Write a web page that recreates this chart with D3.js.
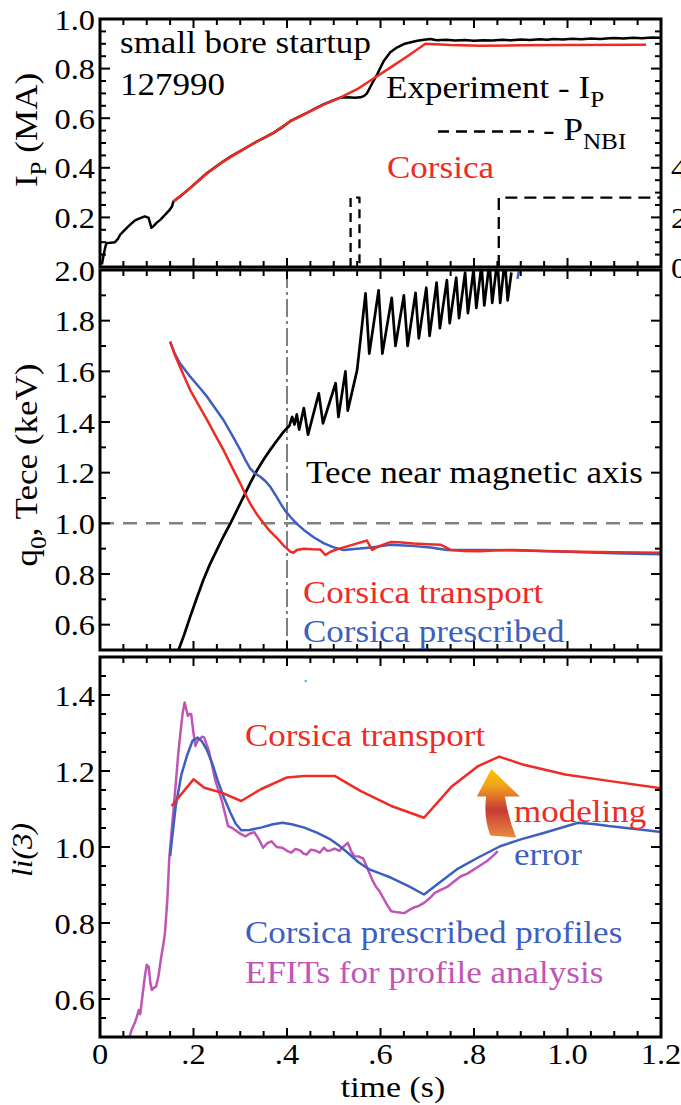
<!DOCTYPE html>
<html>
<head>
<meta charset="utf-8">
<script src="https://d3js.org/d3.v7.min.js"></script>
<style>
  body { margin: 0; background: #fff; }
</style>
</head>
<body>
<div id="chart"></div>
<script>
// ---------- data (time in s) ----------
const ipExperiment = [[0.004,0.01],[0.008,0.05],[0.011,0.078],[0.014,0.097],[0.022,0.098],[0.032,0.10],[0.038,0.112],[0.043,0.13],[0.052,0.148],[0.064,0.17],[0.075,0.188],[0.086,0.197],[0.096,0.204],[0.104,0.198],[0.11,0.158],[0.115,0.166],[0.121,0.178],[0.13,0.192],[0.139,0.21],[0.148,0.228],[0.154,0.244],[0.157,0.264],[0.175,0.29],[0.193,0.319],[0.211,0.349],[0.229,0.379],[0.246,0.402],[0.264,0.426],[0.282,0.448],[0.30,0.467],[0.318,0.487],[0.336,0.507],[0.354,0.524],[0.371,0.541],[0.389,0.563],[0.407,0.588],[0.425,0.605],[0.443,0.622],[0.46,0.639],[0.478,0.656],[0.496,0.670],[0.514,0.683],[0.53,0.684],[0.545,0.682],[0.557,0.684],[0.565,0.69],[0.571,0.70],[0.582,0.74],[0.593,0.777],[0.607,0.831],[0.621,0.866],[0.635,0.885],[0.65,0.899],[0.665,0.906],[0.679,0.912],[0.693,0.916],[0.707,0.919],[0.72,0.914],[0.74,0.916],[0.76,0.913],[0.78,0.915],[0.80,0.912],[0.82,0.914],[0.84,0.913],[0.86,0.916],[0.88,0.914],[0.90,0.917],[0.92,0.915],[0.94,0.918],[0.957,0.916],[0.97,0.919],[0.99,0.917],[1.01,0.92],[1.03,0.918],[1.05,0.921],[1.07,0.919],[1.09,0.922],[1.10,0.923],[1.12,0.921],[1.14,0.924],[1.16,0.922],[1.18,0.925],[1.2,0.924]];
const ipCorsica = [[0.157,0.264],[0.193,0.319],[0.229,0.378],[0.264,0.426],[0.30,0.467],[0.336,0.506],[0.371,0.541],[0.407,0.587],[0.443,0.621],[0.478,0.655],[0.514,0.683],[0.55,0.717],[0.585,0.76],[0.621,0.804],[0.66,0.853],[0.696,0.90],[0.75,0.895],[0.814,0.892],[0.9,0.894],[1.0,0.895],[1.168,0.896]];
// NBI power (MW, right axis)
const nbiPulse1 = [[0.536,0],[0.536,2.8],[0.555,2.8],[0.555,0]];
const nbiPulse2 = [[0.853,0],[0.853,2.8],[1.2,2.8]];

const q0Transport = [[0.15,1.717],[0.16,1.665],[0.171,1.618],[0.182,1.572],[0.193,1.526],[0.211,1.467],[0.229,1.408],[0.246,1.35],[0.264,1.29],[0.282,1.223],[0.30,1.158],[0.311,1.115],[0.321,1.079],[0.335,1.037],[0.35,1.0],[0.364,0.968],[0.379,0.941],[0.393,0.912],[0.407,0.888],[0.414,0.884],[0.421,0.895],[0.436,0.90],[0.455,0.898],[0.471,0.897],[0.482,0.875],[0.493,0.888],[0.507,0.897],[0.521,0.905],[0.536,0.913],[0.55,0.921],[0.571,0.932],[0.576,0.915],[0.582,0.895],[0.59,0.903],[0.60,0.912],[0.621,0.926],[0.64,0.925],[0.671,0.92],[0.70,0.917],[0.729,0.915],[0.74,0.905],[0.75,0.895],[0.78,0.891],[0.814,0.89],[0.85,0.894],[0.886,0.895],[0.95,0.891],[1.029,0.888],[1.1,0.886],[1.206,0.884]];
const q0Prescribed = [[0.15,1.717],[0.16,1.67],[0.171,1.632],[0.182,1.605],[0.193,1.579],[0.211,1.54],[0.229,1.50],[0.246,1.455],[0.264,1.408],[0.282,1.35],[0.30,1.29],[0.311,1.25],[0.321,1.217],[0.332,1.196],[0.343,1.184],[0.354,1.166],[0.364,1.145],[0.375,1.113],[0.386,1.079],[0.396,1.05],[0.407,1.026],[0.421,0.998],[0.436,0.974],[0.457,0.945],[0.479,0.921],[0.50,0.905],[0.521,0.895],[0.55,0.90],[0.58,0.905],[0.621,0.915],[0.66,0.912],[0.707,0.905],[0.743,0.895],[0.814,0.895],[0.9,0.893],[1.0,0.888],[1.1,0.882],[1.206,0.878]];
const teceAxis = [[0.168,0.50],[0.18,0.56],[0.193,0.632],[0.207,0.705],[0.221,0.776],[0.235,0.838],[0.25,0.895],[0.264,0.948],[0.279,1.0],[0.293,1.052],[0.307,1.105],[0.321,1.158],[0.336,1.21],[0.35,1.252],[0.364,1.29],[0.379,1.328],[0.393,1.362],[0.405,1.385],[0.411,1.42],[0.416,1.39],[0.421,1.43],[0.426,1.37],[0.436,1.455],[0.445,1.35],[0.468,1.513],[0.477,1.395],[0.504,1.553],[0.51,1.42],[0.525,1.60],[0.53,1.445],[0.55,1.605],[0.568,1.908],[0.576,1.67],[0.596,1.92],[0.604,1.67],[0.624,1.89],[0.632,1.70],[0.650,1.90],[0.658,1.70],[0.675,1.91],[0.682,1.73],[0.698,1.93],[0.705,1.74],[0.720,1.95],[0.727,1.77],[0.742,1.96],[0.748,1.79],[0.762,1.97],[0.768,1.81],[0.781,1.99],[0.787,1.83],[0.799,2.00],[0.805,1.85],[0.816,2.02],[0.822,1.86],[0.833,2.03],[0.839,1.87],[0.850,2.04],[0.856,1.87],[0.866,2.04],[0.872,1.88],[0.880,1.99]];

const liTransport = [[0.153,1.108],[0.20,1.178],[0.223,1.156],[0.26,1.143],[0.302,1.121],[0.344,1.152],[0.40,1.183],[0.437,1.187],[0.502,1.187],[0.558,1.147],[0.623,1.108],[0.693,1.077],[0.753,1.16],[0.809,1.213],[0.854,1.238],[0.902,1.218],[0.995,1.191],[1.088,1.174],[1.205,1.154]];
const liPrescribed = [[0.15,0.976],[0.162,1.108],[0.174,1.19],[0.186,1.24],[0.198,1.28],[0.209,1.288],[0.218,1.278],[0.228,1.257],[0.24,1.22],[0.251,1.178],[0.265,1.13],[0.279,1.09],[0.29,1.062],[0.302,1.044],[0.32,1.045],[0.344,1.051],[0.37,1.06],[0.39,1.064],[0.41,1.06],[0.437,1.051],[0.465,1.037],[0.493,1.02],[0.512,1.003],[0.53,0.985],[0.553,0.96],[0.576,0.941],[0.6,0.93],[0.623,0.919],[0.66,0.897],[0.693,0.875],[0.73,0.91],[0.763,0.941],[0.81,0.973],[0.856,1.002],[0.9,1.02],[0.949,1.037],[0.99,1.052],[1.023,1.064],[1.06,1.06],[1.088,1.055],[1.15,1.047],[1.205,1.039]];
const liEfit = [[0.063,0.50],[0.068,0.52],[0.074,0.536],[0.078,0.55],[0.083,0.571],[0.086,0.56],[0.09,0.6],[0.096,0.66],[0.1,0.69],[0.104,0.685],[0.108,0.64],[0.111,0.624],[0.116,0.63],[0.12,0.633],[0.125,0.66],[0.13,0.703],[0.135,0.74],[0.139,0.774],[0.144,0.86],[0.148,0.967],[0.153,1.04],[0.158,1.108],[0.163,1.18],[0.167,1.24],[0.172,1.30],[0.177,1.354],[0.181,1.38],[0.185,1.36],[0.188,1.345],[0.191,1.35],[0.195,1.35],[0.2,1.30],[0.204,1.266],[0.209,1.28],[0.214,1.284],[0.218,1.29],[0.223,1.288],[0.228,1.27],[0.232,1.257],[0.239,1.22],[0.246,1.178],[0.253,1.15],[0.26,1.125],[0.267,1.09],[0.274,1.055],[0.283,1.05],[0.292,1.042],[0.3,1.035],[0.311,1.028],[0.32,1.035],[0.33,1.039],[0.34,1.02],[0.349,0.998],[0.358,1.01],[0.367,1.015],[0.378,1.0],[0.39,0.998],[0.4,0.99],[0.409,0.985],[0.418,0.995],[0.428,0.991],[0.435,0.983],[0.442,0.98],[0.451,0.993],[0.46,0.991],[0.47,0.985],[0.479,0.998],[0.486,0.99],[0.493,0.991],[0.502,0.996],[0.512,0.99],[0.52,1.0],[0.53,1.011],[0.537,0.99],[0.544,0.976],[0.553,0.975],[0.563,0.97],[0.57,0.95],[0.576,0.932],[0.583,0.912],[0.59,0.896],[0.597,0.885],[0.604,0.87],[0.613,0.85],[0.623,0.831],[0.637,0.828],[0.651,0.826],[0.66,0.833],[0.67,0.84],[0.682,0.845],[0.693,0.853],[0.705,0.865],[0.716,0.879],[0.73,0.888],[0.744,0.896],[0.758,0.91],[0.772,0.923],[0.786,0.93],[0.80,0.941],[0.814,0.952],[0.828,0.963],[0.84,0.976],[0.851,0.989]];

// tick labels
const xTickValues = [0, 0.2, 0.4, 0.6, 0.8, 1.0, 1.2];
const xTickLabels = ["0", ".2", ".4", ".6", ".8", "1.0", "1.2"];
const ipTicks = [0.2, 0.4, 0.6, 0.8, 1.0];
const q0Ticks = [0.6, 0.8, 1.0, 1.2, 1.4, 1.6, 1.8, 2.0];
const liTicks = [0.6, 0.8, 1.0, 1.2, 1.4];
const nbiTicks = [0, 2, 4];

// ---------- setup ----------
const W = 681, H = 1105;
const RED = "#ee2b24", BLUE = "#3d5fbf", PURPLE = "#bf55b5", GRAY = "#808080";
const FONT = '"Liberation Serif", serif';
const STRETCH = 1.13;

const svg = d3.select("#chart").append("svg")
    .attr("width", W).attr("height", H)
    .attr("font-family", FONT);

const x = d3.scaleLinear().domain([0, 1.2]).range([100, 661]);
const yIp = d3.scaleLinear().domain([0, 1.0]).range([267, 19]);
const yNbi = d3.scaleLinear().domain([0, 10]).range([267, 19]);
const yQ0 = d3.scaleLinear().domain([0.5, 2.0]).range([650, 270]);
const yLi = d3.scaleLinear().domain([0.5, 1.5]).range([1037, 657]);

const defs = svg.append("defs");

// text with optional subscript parts: parts = [[str, isSub], ...]
function label(px, py, parts, opts) {
    opts = opts || {};
    const size = opts.size || 31;
    const sx = opts.stretch || STRETCH;
    const rot = opts.rotate ? " rotate(-90)" : "";
    const t = svg.append("text")
        .attr("transform", `translate(${px},${py})${rot} scale(${sx},1)`)
        .attr("font-family", FONT)
        .attr("font-size", size)
        .attr("fill", opts.color || "#000")
        .attr("text-anchor", opts.anchor || "start")
        .attr("font-style", opts.italic ? "italic" : null);
    if (opts.dy) t.attr("dy", opts.dy);
    if (typeof parts === "string") parts = [[parts, false]];
    let shifted = false;
    parts.forEach(p => {
        const sp = t.append("tspan").text(p[0]);
        if (p[1]) {
            sp.attr("font-size", size * 0.72).attr("dy", size * 0.28);
            shifted = true;
        } else if (shifted) {
            sp.attr("dy", -size * 0.28);
            shifted = false;
        }
    });
    return t;
}

function clipFor(id, y) {
    const r = y.range();
    defs.append("clipPath").attr("id", id).append("rect")
        .attr("x", x(0)).attr("y", r[1])
        .attr("width", x(1.2) - x(0)).attr("height", r[0] - r[1]);
    return `url(#${id})`;
}

function curve(data, y, color, clip, width, dash) {
    const line = d3.line().x(d => x(d[0])).y(d => y(d[1]));
    svg.append("path")
        .datum(data)
        .attr("d", line)
        .attr("fill", "none")
        .attr("stroke", color)
        .attr("stroke-width", width || 2.5)
        .attr("stroke-linejoin", "round")
        .attr("stroke-dasharray", dash || null)
        .attr("clip-path", clip);
}

function frame(y, yStep, yMajor) {
    const r = y.range(), d = y.domain();
    const g = svg.append("g").attr("stroke", "#000").attr("stroke-width", 2);
    // x ticks top and bottom
    d3.range(0, 25).forEach(i => {
        const len = i % 4 === 0 ? 9 : 6;
        const px = x(i * 0.05);
        g.append("line").attr("x1", px).attr("x2", px).attr("y1", r[0]).attr("y2", r[0] - len);
        g.append("line").attr("x1", px).attr("x2", px).attr("y1", r[1]).attr("y2", r[1] + len);
    });
    const n = Math.round((d[1] - d[0]) / yStep);
    d3.range(0, n + 1).forEach(i => {
        const v = d[0] + i * yStep;
        const major = Math.abs(v / yMajor - Math.round(v / yMajor)) < 1e-6;
        const len = major ? 10 : 6;
        const py = y(v);
        g.append("line").attr("x1", x(0)).attr("x2", x(0) + len).attr("y1", py).attr("y2", py);
        g.append("line").attr("x1", x(1.2)).attr("x2", x(1.2) - len).attr("y1", py).attr("y2", py);
    });
    svg.append("rect")
        .attr("x", x(0)).attr("y", r[1])
        .attr("width", x(1.2) - x(0)).attr("height", r[0] - r[1])
        .attr("fill", "none").attr("stroke", "#000").attr("stroke-width", 3);
}

function yLabels(y, ticks) {
    ticks.forEach(v => label(95, y(v), v.toFixed(1), { size: 30, stretch: 1.08, anchor: "end", dy: "0.35em" }));
}

// ---------- top panel: plasma current ----------
const clipIp = clipFor("clipIp", yIp);
curve(nbiPulse1, yNbi, "#000", clipIp, 2.3, "9,6");
curve(nbiPulse2, yNbi, "#000", clipIp, 2.3, "12,7");
curve(ipExperiment, yIp, "#000", clipIp, 2.5);
curve(ipCorsica, yIp, RED, clipIp, 2.5);
frame(yIp, 0.05, 0.2);
yLabels(yIp, ipTicks);
// right-hand P_NBI axis labels, partly cut by the picture edge as in the source
nbiTicks.forEach(v => label(671, yNbi(v), String(v), { size: 30, stretch: 1.08, dy: "0.35em" }));

label(120, 53, "small bore startup");
label(120, 95, "127990");
label(386, 98, [["Experiment - I", false], ["P", true]]);
svg.append("line")
    .attr("x1", 438).attr("x2", 534).attr("y1", 131.5).attr("y2", 131.5)
    .attr("stroke", "#000").attr("stroke-width", 2.5).attr("stroke-dasharray", "11,7");
label(543, 140, [["- P", false], ["NBI", true]]);
label(387, 178, "Corsica", { color: RED });
label(37, 130, [["I", false], ["P", true], [" (MA)", false]], { rotate: true, anchor: "middle" });

// ---------- middle panel: q0 and Tece ----------
const clipQ0 = clipFor("clipQ0", yQ0);
svg.append("line")
    .attr("x1", x(0)).attr("x2", x(1.2)).attr("y1", yQ0(1.0)).attr("y2", yQ0(1.0))
    .attr("stroke", GRAY).attr("stroke-width", 2.5).attr("stroke-dasharray", "14,9");
svg.append("line")
    .attr("x1", x(0.4)).attr("x2", x(0.4)).attr("y1", yQ0(2.0)).attr("y2", yQ0(0.5))
    .attr("stroke", GRAY).attr("stroke-width", 2).attr("stroke-dasharray", "18,4,3,4");
curve(teceAxis, yQ0, "#000", clipQ0, 2.7);
curve(q0Prescribed, yQ0, BLUE, clipQ0, 2.5);
curve(q0Transport, yQ0, RED, clipQ0, 2.5);
svg.append("line")
    .attr("x1", x(0.893)).attr("x2", x(0.896)).attr("y1", yQ0(1.965)).attr("y2", yQ0(1.995))
    .attr("stroke", BLUE).attr("stroke-width", 2.5);
frame(yQ0, 0.1, 0.2);
yLabels(yQ0, q0Ticks);

label(306, 483, "Tece near magnetic axis");
label(303, 603, "Corsica transport", { color: RED });
label(303, 642, "Corsica prescribed", { color: BLUE });
label(37, 465, [["q", false], ["0", true], [", Tece (keV)", false]], { rotate: true, anchor: "middle" });

// ---------- bottom panel: internal inductance ----------
const clipLi = clipFor("clipLi", yLi);
curve(liEfit, yLi, PURPLE, clipLi, 2.5);
curve(liPrescribed, yLi, BLUE, clipLi, 2.5);
curve(liTransport, yLi, RED, clipLi, 2.5);

// modeling error arrow
const grad = defs.append("linearGradient").attr("id", "arrowGrad")
    .attr("x1", 0).attr("x2", 0).attr("y1", 0).attr("y2", 1);
grad.append("stop").attr("offset", "0%").attr("stop-color", "#f6c800");
grad.append("stop").attr("offset", "25%").attr("stop-color", "#f0a020");
grad.append("stop").attr("offset", "60%").attr("stop-color", "#c63a36");
grad.append("stop").attr("offset", "100%").attr("stop-color", "#ec8a40");
const ap = d3.path();
ap.moveTo(x(0.837), yLi(1.205));
ap.lineTo(x(0.898), yLi(1.133));
ap.lineTo(x(0.866), yLi(1.133));
ap.quadraticCurveTo(x(0.875), yLi(1.07), x(0.89), yLi(1.025));
ap.lineTo(x(0.835), yLi(1.03));
ap.quadraticCurveTo(x(0.82), yLi(1.08), x(0.826), yLi(1.133));
ap.lineTo(x(0.806), yLi(1.133));
ap.closePath();
svg.append("path").attr("d", ap.toString()).attr("fill", "url(#arrowGrad)");

svg.append("circle").attr("cx", x(0.44)).attr("cy", yLi(1.437)).attr("r", 1.3).attr("fill", "#40c0e0");

frame(yLi, 0.05, 0.2);
yLabels(yLi, liTicks);

label(245, 746, "Corsica transport", { color: RED });
label(514, 822, "modeling", { color: RED });
label(514, 865, "error", { color: BLUE });
label(245, 943, "Corsica prescribed profiles", { color: BLUE });
label(245, 983, "EFITs for profile analysis", { color: PURPLE });
label(32, 850, "li(3)", { rotate: true, anchor: "middle", italic: true, size: 30, stretch: 1.05 });

// x axis labels
xTickValues.forEach((v, i) => label(x(v), 1064, xTickLabels[i], { size: 30, stretch: 1.08, anchor: "middle" }));
label(393, 1097, "time (s)", { anchor: "middle", size: 30 });
</script>
</body>
</html>
